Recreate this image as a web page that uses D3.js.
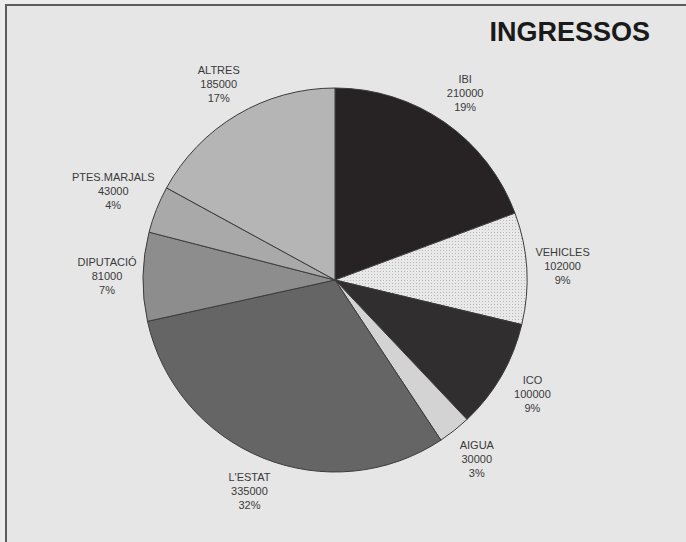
<!DOCTYPE html>
<html>
<head>
<meta charset="utf-8">
<script src="https://cdn.jsdelivr.net/npm/d3@7"></script>
<style>
  body { margin: 0; background: #ececec; }
  text { font-family: "Liberation Sans", Arial, sans-serif; }
  .lbl { font-size: 11px; fill: #3a3a3a; }
  .title { font-size: 27px; font-weight: bold; fill: #1a1a1a; }
</style>
</head>
<body>
<svg width="686" height="542"></svg>
<script>
const names = ['IBI', 'VEHICLES', 'ICO', 'AIGUA', "L'ESTAT", 'DIPUTACIÓ', 'PTES.MARJALS', 'ALTRES']
const values = [210000, 102000, 100000, 30000, 335000, 81000, 43000, 185000]
const percents = ['19%', '9%', '9%', '3%', '32%', '7%', '4%', '17%']
const colors = ['#272324', '#e6e6e6', '#312e2f', '#d3d3d3', '#656565', '#8d8d8d', '#a9a9a9', '#b5b5b5']

const svg = d3.select('svg')
const width = +svg.attr('width')
const height = +svg.attr('height')

const data = names.map((n, i) => ({name: n, value: values[i], pct: percents[i], color: colors[i]}))

// frame, only top and left edges are in view
svg.append('rect')
  .attr('x', 6).attr('y', 5)
  .attr('width', width + 20).attr('height', height + 20)
  .attr('fill', '#e6e6e6')
  .attr('stroke', '#5c5c5c')
  .attr('stroke-width', 2)

// dotted pattern for VEHICLES
const defs = svg.append('defs')
const pat = defs.append('pattern')
  .attr('id', 'dots')
  .attr('width', 3).attr('height', 3)
  .attr('patternUnits', 'userSpaceOnUse')
pat.append('rect').attr('width', 3).attr('height', 3).attr('fill', '#e8e8e8')
pat.append('rect').attr('width', 1).attr('height', 1).attr('fill', '#b8b8b8')

svg.append('text')
  .attr('class', 'title')
  .attr('x', 650)
  .attr('y', 41)
  .attr('text-anchor', 'end')
  .text('INGRESSOS')

const cx = 335, cy = 280, radius = 192

const pie = d3.pie().sort(null).value(d => d.value)
const arc = d3.arc().innerRadius(0).outerRadius(radius)
const labelArc = d3.arc().innerRadius(228).outerRadius(228)

const g = svg.append('g')
  .attr('transform', `translate(${cx}, ${cy})`)

g.selectAll('path')
  .data(pie(data))
  .enter()
  .append('path')
  .attr('d', arc)
  .attr('fill', d => d.data.name === 'VEHICLES' ? 'url(#dots)' : d.data.color)
  .attr('stroke', '#3c3c3c')
  .attr('stroke-width', 1)

// labels sit on a ring outside the pie; small slices on the left get pushed out a bit
const labelPos = d => {
  const [x, y] = labelArc.centroid(d)
  const small = d.data.value < 50000 && x < 0
  return small ? [x * 1.06 + 3, y * 1.06] : [x, y]
}

const labels = g.selectAll('.lbl')
  .data(pie(data))
  .enter()
  .append('text')
  .attr('class', 'lbl')
  .attr('text-anchor', 'middle')
  .attr('transform', d => `translate(${labelPos(d)})`)

labels.append('tspan').attr('x', 0).attr('y', -10).text(d => d.data.name)
labels.append('tspan').attr('x', 0).attr('y', 4).text(d => d.data.value)
labels.append('tspan').attr('x', 0).attr('y', 18).text(d => d.data.pct)
</script>
</body>
</html>
